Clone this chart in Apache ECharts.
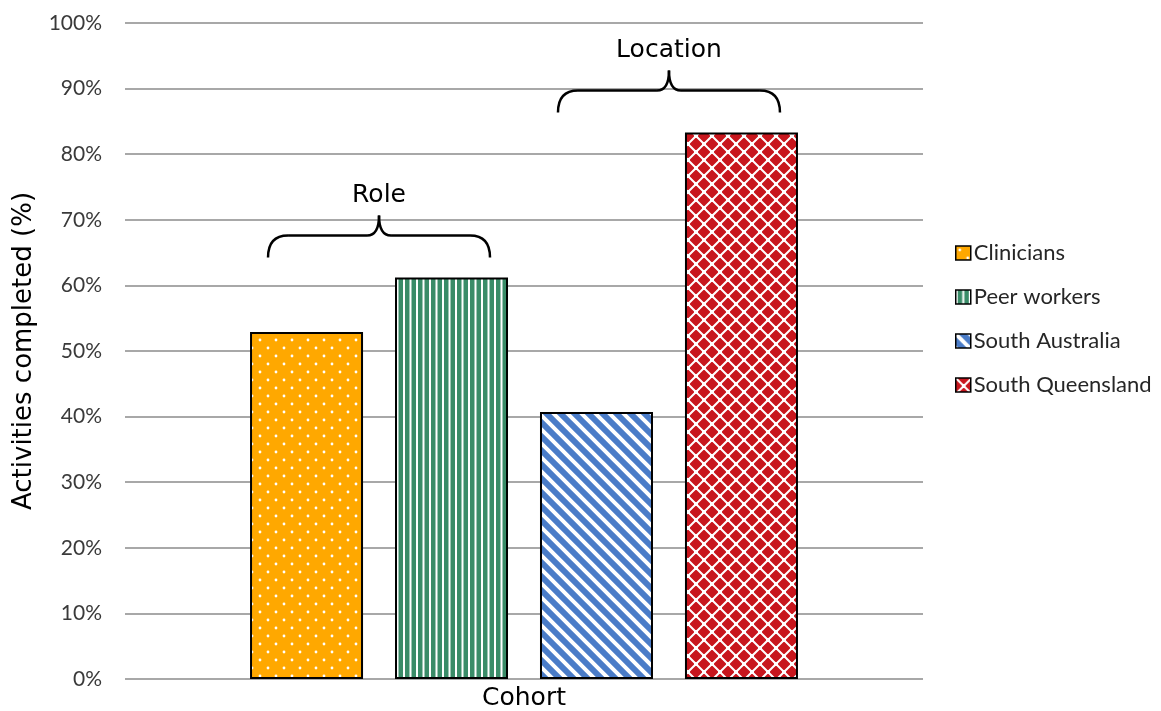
<!DOCTYPE html>
<html>
<head>
<meta charset="utf-8">
<script src="https://cdn.jsdelivr.net/npm/echarts@6/dist/echarts.min.js"></script>
<style>
  html, body { margin: 0; padding: 0; background: #fff; }
  #chart { width: 1161px; height: 711px; }
</style>
</head>
<body>
<div id="chart"></div>
<script>
// Completion of activities by cohort
const categories = ['Cohort'];
const seriesNames = ['Clinicians', 'Peer workers', 'South Australia', 'South Queensland'];
const values = [52.9, 61.2, 40.7, 83.3];
const yMin = 0, yMax = 100, yStep = 10;

// Brace groups above the bars (indices into seriesNames)
const groupLabels = ['Role', 'Location'];
const groupFirst = [0, 2];
const groupLast = [1, 3];

const BAR_W = 113;
const BAR_GAP = 0.283;

function tile(w, h, bg, draw) {
  const c = document.createElement('canvas');
  c.width = w; c.height = h;
  const g = c.getContext('2d');
  g.fillStyle = bg;
  g.fillRect(0, 0, w, h);
  g.fillStyle = '#fff';
  g.strokeStyle = '#fff';
  draw(g, w, h);
  return { image: c, repeat: 'repeat' };
}

const fills = [
  // small white dots on orange
  tile(16, 16, '#ffa800', g => {
    g.beginPath(); g.arc(4, 4, 1.4, 0, Math.PI * 2); g.fill();
    g.beginPath(); g.arc(12, 12, 1.4, 0, Math.PI * 2); g.fill();
  }),
  // vertical white stripes on green
  tile(13, 8, '#3a8c68', g => {
    g.fillRect(0, 0, 2, 8);
    g.fillRect(6.5, 0, 2, 8);
  }),
  // downward diagonal stripes on blue
  tile(14, 14, '#4a7cc8', g => {
    g.lineWidth = 4;
    g.beginPath();
    g.moveTo(-7, -7); g.lineTo(21, 21);
    g.moveTo(-7, 7); g.lineTo(7, 21);
    g.moveTo(7, -7); g.lineTo(21, 7);
    g.stroke();
  }),
  // white trellis on red
  tile(16, 16, '#c8161d', g => {
    g.lineWidth = 2;
    g.beginPath();
    g.moveTo(-2, -2); g.lineTo(18, 18);
    g.moveTo(18, -2); g.lineTo(-2, 18);
    g.stroke();
    g.fillRect(6, 6, 4, 4);
    g.fillRect(-2, -2, 4, 4);
    g.fillRect(14, -2, 4, 4);
    g.fillRect(-2, 14, 4, 4);
    g.fillRect(14, 14, 4, 4);
  })
];

const chart = echarts.init(document.getElementById('chart'), null, { renderer: 'canvas' });

const option = {
  animation: false,
  backgroundColor: '#fff',
  grid: { left: 125, right: 238, top: 23, bottom: 32, containLabel: false },
  legend: {
    orient: 'vertical',
    left: 950,
    top: 237,
    itemWidth: 15,
    itemHeight: 14,
    itemGap: 22,
    icon: 'rect',
    itemStyle: { borderColor: '#000', borderWidth: 1.5 },
    textStyle: { fontFamily: 'Lato', fontSize: 22, color: '#262626', lineHeight: 20, padding: [0, 0, 0, -2] },
    data: seriesNames
  },
  xAxis: {
    type: 'category',
    data: categories,
    axisLine: { show: false },
    axisTick: { show: false },
    axisLabel: { fontFamily: 'DejaVu Sans', fontSize: 25, color: '#000', margin: 7 }
  },
  yAxis: {
    type: 'value',
    min: yMin,
    max: yMax,
    interval: yStep,
    name: 'Activities completed (%)',
    nameLocation: 'middle',
    nameGap: 86,
    nameTextStyle: { fontFamily: 'DejaVu Sans', fontSize: 26, color: '#000' },
    axisLine: { show: false },
    axisTick: { show: false },
    axisLabel: { formatter: '{value}%', fontFamily: 'Lato', fontSize: 21, color: '#3a3a3a', margin: 23 },
    splitLine: { lineStyle: { color: '#a8a8a8', width: 2 } }
  },
  series: seriesNames.map((name, i) => ({
    name,
    type: 'bar',
    data: [values[i]],
    barWidth: BAR_W,
    barGap: (BAR_GAP * 100) + '%',
    itemStyle: { color: fills[i], borderColor: '#000', borderWidth: 2 }
  }))
};

chart.setOption(option);

// Braces with group labels, placed from the bar geometry
function braceGraphics() {
  const n = seriesNames.length;
  const gap = BAR_W * BAR_GAP;
  const total = n * BAR_W + (n - 1) * gap;
  const cx = chart.convertToPixel({ xAxisIndex: 0 }, categories[0]);
  const barLeft = i => cx - total / 2 + i * (BAR_W + gap);
  const stroke = { fill: null, stroke: '#000', lineWidth: 2.5 };
  const els = [];
  const curve = (x1, y1, cpx, cpy, x2, y2) => ({
    type: 'bezierCurve',
    shape: { x1, y1, x2, y2, cpx1: cpx, cpy1: cpy },
    style: stroke, z: 10
  });
  const line = (x1, y1, x2, y2) => ({
    type: 'line',
    shape: { x1, y1, x2, y2 },
    style: stroke, z: 10
  });
  groupLabels.forEach((label, k) => {
    const a = groupFirst[k], b = groupLast[k];
    const x0 = barLeft(a) + 18;
    const x1 = barLeft(b) + BAR_W - 18;
    const xm = (x0 + x1) / 2;
    let top = Infinity;
    for (let i = a; i <= b; i++) {
      top = Math.min(top, chart.convertToPixel({ yAxisIndex: 0 }, values[i]));
    }
    const yb = top - 20;      // arm ends
    const yh = yb - 22;       // horizontal run
    const yt = yh - 20;       // centre tip
    const r = 20, rt = 12;
    els.push(curve(x0, yb, x0, yh, x0 + r, yh));
    els.push(line(x0 + r, yh, xm - rt, yh));
    els.push(curve(xm - rt, yh, xm, yh, xm, yt));
    els.push(curve(xm, yt, xm, yh, xm + rt, yh));
    els.push(line(xm + rt, yh, x1 - r, yh));
    els.push(curve(x1 - r, yh, x1, yh, x1, yb));
    els.push({
      type: 'text',
      x: xm, y: yt - 20,
      style: {
        text: label, fill: '#000', fontFamily: 'DejaVu Sans', fontSize: 25,
        align: 'center', verticalAlign: 'middle'
      },
      z: 10
    });
  });
  return els;
}

chart.setOption({ graphic: braceGraphics() });
</script>
</body>
</html>
